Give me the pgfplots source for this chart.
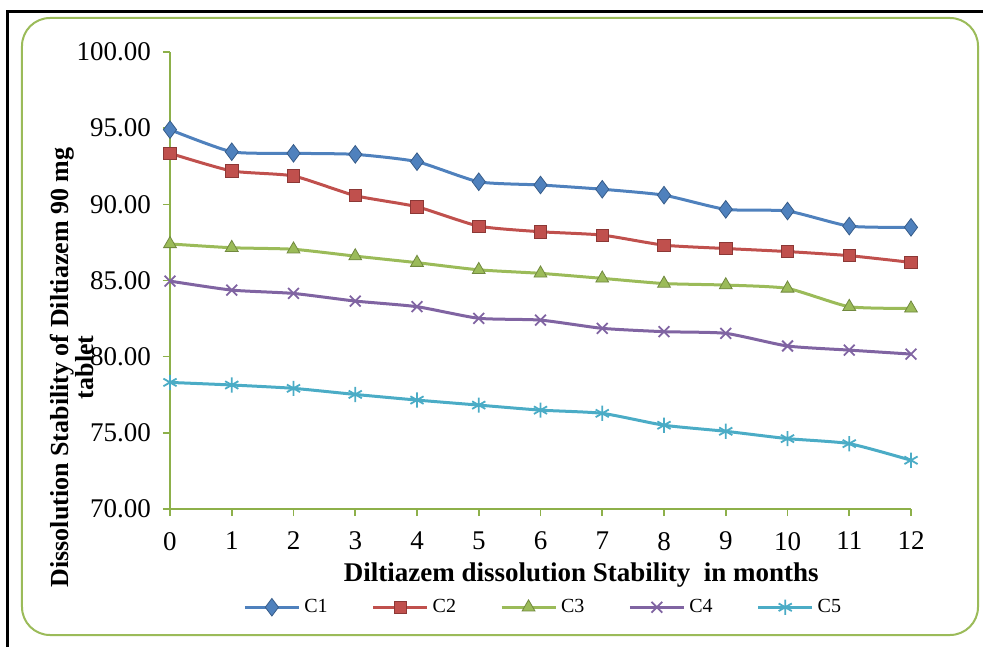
\documentclass[border=0pt]{standalone}
\usepackage{pgfplots}
\pgfplotsset{compat=1.18}
\usepackage{fontspec}
\setmainfont{Liberation Serif}
\definecolor{cone}{HTML}{4F81BD}
\definecolor{conee}{HTML}{385D8A}
\definecolor{ctwo}{HTML}{C0504D}
\definecolor{ctwoe}{HTML}{8C3836}
\definecolor{cthree}{HTML}{9BBB59}
\definecolor{cthreee}{HTML}{71893F}
\definecolor{cfour}{HTML}{8064A2}
\definecolor{cfive}{HTML}{4BACC6}
\definecolor{axgreen}{HTML}{8DB04A}
\definecolor{boxgreen}{HTML}{9BBB59}

\pgfplotstableread{
m  c1    c2    c3    c4    c5
0  94.90 93.35 87.40 84.96 78.31
1  93.45 92.19 87.15 84.37 78.14
2  93.35 91.86 87.05 84.15 77.92
3  93.28 90.57 86.60 83.65 77.52
4  92.80 89.84 86.17 83.28 77.15
5  91.48 88.57 85.70 82.52 76.82
6  91.27 88.20 85.47 82.40 76.49
7  90.99 87.98 85.14 81.86 76.28
8  90.60 87.32 84.80 81.64 75.50
9  89.67 87.10 84.70 81.53 75.10
10 89.56 86.90 84.48 80.70 74.62
11 88.57 86.63 83.28 80.43 74.29
12 88.49 86.19 83.17 80.17 73.20
}\datatable

\begin{document}
\begin{tikzpicture}
\useasboundingbox (-85pt,-69pt) rectangle (406.5pt,254.5pt);
\draw[line width=1.5pt] (-81pt,-69pt) -- (-81pt,248.5pt) -- (406.5pt,248.5pt);
\draw[boxgreen, line width=1pt, rounded corners=14pt] (-74pt,-63pt) rectangle (404pt,245.5pt);
\begin{axis}[
    at={(0,0)}, anchor=south west,
    scale only axis,
    width=370.5pt, height=228.5pt,
    xmin=0, xmax=12, ymin=70, ymax=100,
    xtick={0,...,12}, ytick={70,75,...,100},
    axis lines*=left,
    axis line style={axgreen, line width=1pt},
    tick style={axgreen, line width=0.8pt},
    tick align=outside, major tick length=3.5pt,
    /pgf/number format/assume math mode=true,
    tick label style={font=\fontsize{13.5}{15}\selectfont},
    xticklabel style={yshift=-4.5pt},
    yticklabel style={xshift=-2.5pt, /pgf/number format/.cd, fixed, fixed zerofill, precision=2},
    clip=false,
    legend columns=5,
    legend style={at={(0.505,-0.215)}, anchor=center, draw=none,
      font=\fontsize{10}{12}\selectfont,
      /tikz/every even column/.append style={column sep=20pt}},
    legend image code/.code={\draw[mark repeat=2,mark phase=2]
      plot coordinates {(0pt,0pt) (13.5pt,0pt) (27pt,0pt)};},
    every axis plot/.append style={line width=1.5pt, smooth, tension=0.35},
]
\addplot[cone, mark=diamond*, mark size=4.4pt, mark options={fill=cone, draw=conee, line width=0.4pt}] table[x=m, y=c1] {\datatable};
\addplot[ctwo, mark=square*, mark size=3.1pt, mark options={fill=ctwo, draw=ctwoe, line width=0.4pt}] table[x=m, y=c2] {\datatable};
\addplot[cthree, mark=triangle*, mark size=3.7pt, mark options={fill=cthree, draw=cthreee, line width=0.4pt}] table[x=m, y=c3] {\datatable};
\addplot[cfour, mark=x, mark size=3.8pt, mark options={line width=0.9pt}] table[x=m, y=c4] {\datatable};
\addplot[cfive, mark=asterisk, mark size=3.8pt, mark options={line width=0.9pt}] table[x=m, y=c5] {\datatable};
\legend{C1,C2,C3,C4,C5}
\node[xshift=-49pt, rotate=90, align=center, font=\bfseries\fontsize{13}{12.5}\selectfont]
  at (rel axis cs:0,0.31) {Dissolution Stability of Diltiazem 90 mg\\tablet};
\node[yshift=-33pt, font=\bfseries\fontsize{13.5}{15}\selectfont]
  at (rel axis cs:0.555,0) {Diltiazem dissolution Stability\ \ in months};
\end{axis}
\end{tikzpicture}
\end{document}
